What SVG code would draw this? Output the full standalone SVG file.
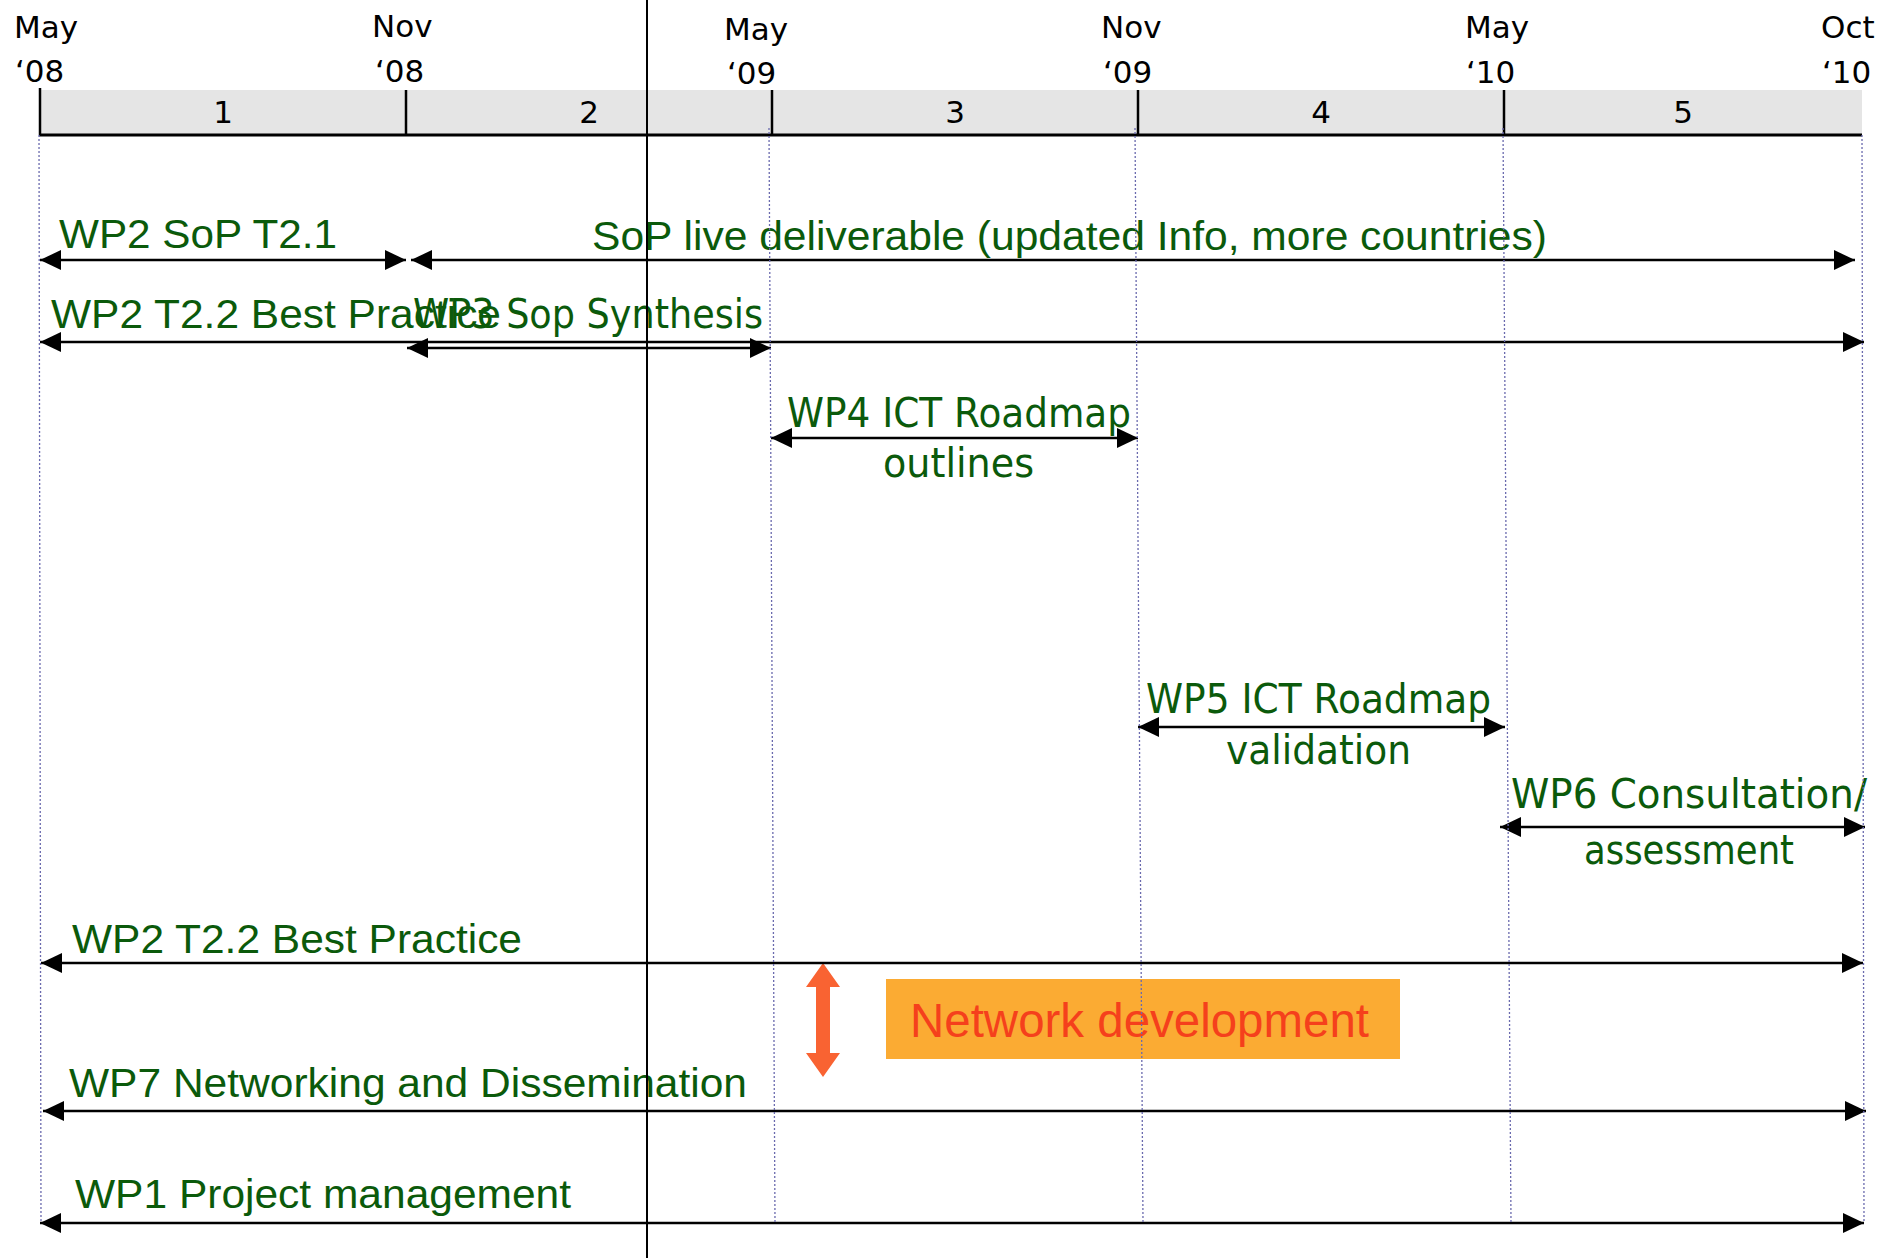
<svg xmlns="http://www.w3.org/2000/svg" width="1894" height="1258" viewBox="0 0 1894 1258">
<defs>
<marker id="ah" markerUnits="userSpaceOnUse" markerWidth="21" markerHeight="20" refX="21" refY="10" orient="auto-start-reverse" viewBox="0 0 21 20"><path d="M0,0 L21,10 L0,20 z" fill="#000"/></marker>
</defs>
<style>
.hdr{font-family:"DejaVu Sans","Liberation Sans",sans-serif;font-size:31px;fill:#000}
.num{font-family:"DejaVu Sans","Liberation Sans",sans-serif;font-size:31px;fill:#000;text-anchor:middle}
.ga{font-family:"Liberation Sans",Arial,sans-serif;font-size:40px;fill:#0b5a0b}
.gt{font-family:"DejaVu Sans",sans-serif;font-size:41px;fill:#0b5a0b}
.arr{stroke:#000;stroke-width:2.5;fill:none}
.grid{stroke:#6a6aae;stroke-width:1.3;stroke-dasharray:2 2;fill:none}
.tick{stroke:#000;stroke-width:2.5}
</style>
<rect width="1894" height="1258" fill="#fff"/>

<g id="timeline-header">
<rect x="40" y="90" width="1822" height="45" fill="#e5e5e5"/>
<line class="tick" x1="40" y1="88" x2="40" y2="135"/>
<line class="tick" x1="406" y1="90" x2="406" y2="135"/>
<line class="tick" x1="772" y1="90" x2="772" y2="135"/>
<line class="tick" x1="1138" y1="90" x2="1138" y2="135"/>
<line class="tick" x1="1504" y1="90" x2="1504" y2="135"/>
<line x1="39" y1="135" x2="1862" y2="135" stroke="#000" stroke-width="3"/>
<text class="num" x="223" y="123">1</text>
<text class="num" x="589" y="123">2</text>
<text class="num" x="955" y="123">3</text>
<text class="num" x="1321" y="123">4</text>
<text class="num" x="1683" y="123">5</text>
<text class="hdr" x="14" y="38">May</text>
<text class="hdr" x="15" y="82">‘08</text>
<text class="hdr" x="372" y="37">Nov</text>
<text class="hdr" x="375" y="82">‘08</text>
<text class="hdr" x="724" y="40">May</text>
<text class="hdr" x="727" y="84">‘09</text>
<text class="hdr" x="1101" y="38">Nov</text>
<text class="hdr" x="1103" y="83">‘09</text>
<text class="hdr" x="1465" y="38">May</text>
<text class="hdr" x="1466" y="83">‘10</text>
<text class="hdr" x="1821" y="38">Oct</text>
<text class="hdr" x="1822" y="83">‘10</text>
</g>

<g id="network-development">
<rect x="886" y="979" width="514" height="80" fill="#fbab33"/>
<text x="910" y="1037" textLength="459" lengthAdjust="spacingAndGlyphs" font-family="Liberation Sans, Arial, sans-serif" font-size="48" fill="#f5401c">Network development</text>
<polygon points="823,963 840,987 830,987 830,1053 840,1053 823,1077 806,1053 816,1053 816,987 806,987" fill="#f96332"/>
</g>

<g id="wp2-sop-t21"><text class="ga" x="59" y="248" textLength="278" lengthAdjust="spacingAndGlyphs">WP2 SoP T2.1</text></g>
<g id="sop-live"><text class="ga" x="592" y="250" textLength="955" lengthAdjust="spacingAndGlyphs">SoP live deliverable (updated Info, more countries)</text></g>
<g id="wp2-t22-a"><text class="ga" x="51" y="328" textLength="450" lengthAdjust="spacingAndGlyphs">WP2 T2.2 Best Practice</text></g>
<g id="wp3"><text class="gt" x="413" y="328" textLength="350" lengthAdjust="spacingAndGlyphs">WP3 Sop Synthesis</text></g>
<g id="wp4">
<text class="gt" x="787" y="427" textLength="344" lengthAdjust="spacingAndGlyphs">WP4 ICT Roadmap</text>
<text class="gt" x="883" y="477" textLength="151" lengthAdjust="spacingAndGlyphs">outlines</text>
</g>
<g id="wp5">
<text class="gt" x="1146" y="713" textLength="345" lengthAdjust="spacingAndGlyphs">WP5 ICT Roadmap</text>
<text class="gt" x="1226" y="764" textLength="185" lengthAdjust="spacingAndGlyphs">validation</text>
</g>
<g id="wp6">
<text class="gt" x="1511" y="808" textLength="356" lengthAdjust="spacingAndGlyphs">WP6 Consultation/</text>
<text class="gt" x="1584" y="864" textLength="210" lengthAdjust="spacingAndGlyphs">assessment</text>
</g>
<g id="wp2-t22-b"><text class="ga" x="72" y="953" textLength="450" lengthAdjust="spacingAndGlyphs">WP2 T2.2 Best Practice</text></g>
<g id="wp7"><text class="ga" x="69" y="1097" textLength="678" lengthAdjust="spacingAndGlyphs">WP7 Networking and Dissemination</text></g>
<g id="wp1"><text class="ga" x="75" y="1208" textLength="496" lengthAdjust="spacingAndGlyphs">WP1 Project management</text></g>

<g id="connectors">
<line class="arr" x1="40" y1="260" x2="406" y2="260" marker-start="url(#ah)" marker-end="url(#ah)"/>
<line class="arr" x1="411" y1="260" x2="1855" y2="260" marker-start="url(#ah)" marker-end="url(#ah)"/>
<line class="arr" x1="40" y1="342" x2="1864" y2="342" marker-start="url(#ah)" marker-end="url(#ah)"/>
<line class="arr" x1="407" y1="348" x2="771" y2="348" marker-start="url(#ah)" marker-end="url(#ah)"/>
<line class="arr" x1="771" y1="438" x2="1138" y2="438" marker-start="url(#ah)" marker-end="url(#ah)"/>
<line class="arr" x1="1138" y1="727" x2="1505" y2="727" marker-start="url(#ah)" marker-end="url(#ah)"/>
<line class="arr" x1="1500" y1="827" x2="1865" y2="827" marker-start="url(#ah)" marker-end="url(#ah)"/>
<line class="arr" x1="41" y1="963" x2="1863" y2="963" marker-start="url(#ah)" marker-end="url(#ah)"/>
<line class="arr" x1="43" y1="1111" x2="1866" y2="1111" marker-start="url(#ah)" marker-end="url(#ah)"/>
<line class="arr" x1="40" y1="1223" x2="1864" y2="1223" marker-start="url(#ah)" marker-end="url(#ah)"/>
</g>

<g id="grid">
<line class="grid" x1="39" y1="135" x2="41" y2="1222"/>
<line class="grid" x1="769" y1="128" x2="775" y2="1222"/>
<line class="grid" x1="1135" y1="128" x2="1143" y2="1222"/>
<line class="grid" x1="1503" y1="128" x2="1511" y2="1222"/>
<line class="grid" x1="1862" y1="135" x2="1864" y2="1222"/>
</g>
<line id="today-line" x1="647" y1="0" x2="647" y2="1258" stroke="#000" stroke-width="2"/>
</svg>
